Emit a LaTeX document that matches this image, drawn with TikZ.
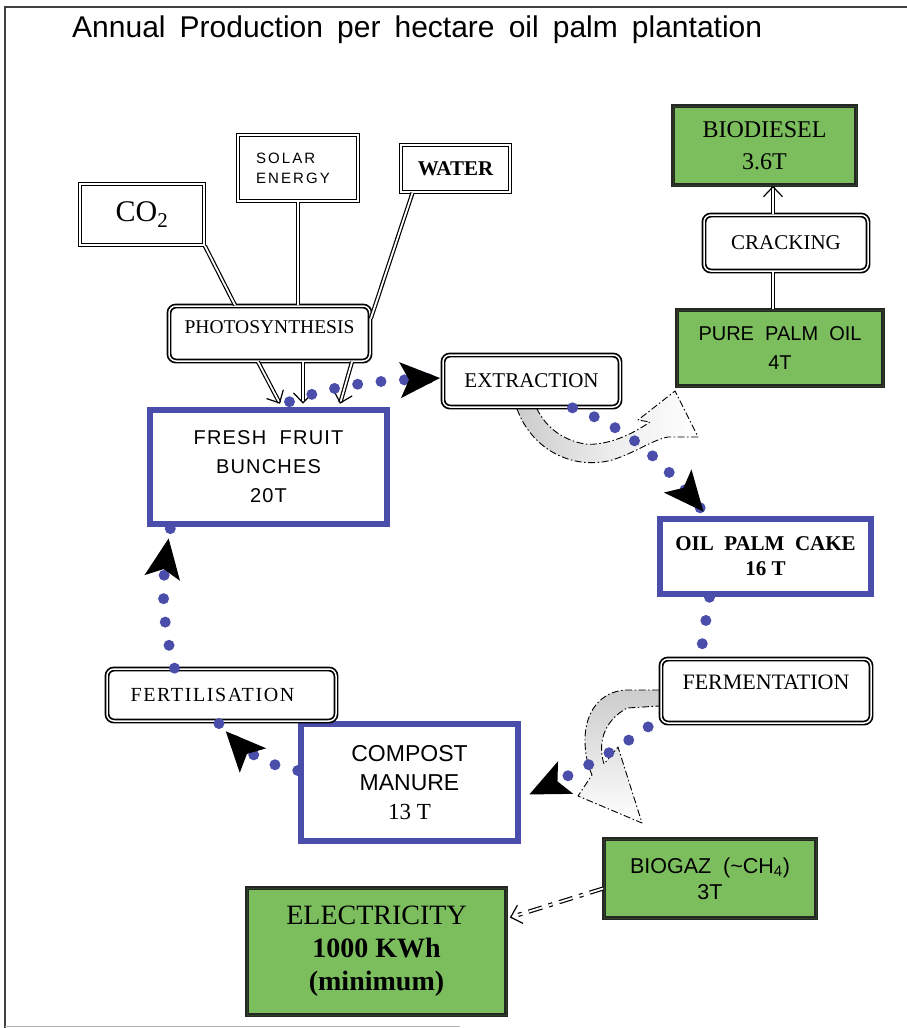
\documentclass[tikz,border=0pt]{standalone}
\usepackage{fontspec}
\setmainfont{Liberation Serif}
\setsansfont{Liberation Sans}
\newfontfamily\spacedsans[LetterSpace=14]{Liberation Sans}
\newfontfamily\spacedsansb[LetterSpace=6]{Liberation Sans}
\newfontfamily\spacedserif[LetterSpace=8]{Liberation Serif}
\usetikzlibrary{arrows.meta,decorations.markings,shadings}
\definecolor{cblue}{RGB}{74,78,170}
\definecolor{cgreen}{RGB}{124,190,94}
\newcommand\fsz[2]{\fontsize{#1}{#2}\selectfont}
\tikzset{
  bigtip/.tip={Stealth[black,length=40pt,width=36pt,inset=9pt,line width=0pt]},
  dtip/.tip={Straight Barb[length=10pt,width=19pt]},
  dbox/.style={draw=black,line width=1.7pt,double=white,double distance=1.5pt,fill=white,inner sep=0pt,align=center},
  rbox/.style={dbox,rounded corners=7pt},
  gbox/.style={draw=black!85,line width=1.7pt,double=cgreen!35!black,double distance=1pt,fill=cgreen,inner sep=0pt,align=center},
  bbox/.style={draw=cblue,line width=6.5pt,fill=white,inner sep=0pt,align=center},
  dline/.style={draw=black,line width=1.2pt,double=white,double distance=1.8pt},
  dots/.style={draw=cblue,line width=11pt,line cap=round,dash pattern=on 0pt off 23.5pt},
  cyc/.style={dots,postaction={decorate},decoration={markings,mark=at position #1 with {\arrow{bigtip}}}},
  hollow/.style={draw=black,line width=0.9pt,dash pattern=on 7pt off 2.5pt on 1.5pt off 2.5pt,line join=round},
}
\begin{document}
\begin{tikzpicture}[x=1pt,y=-1pt]
\useasboundingbox (0,0) rectangle (907,1028);
% frame
\draw[black!75,line width=1.2pt] (5,1028) -- (5,7) -- (907,7);
\draw[black!30,line width=1pt] (5,1026) -- (460,1026);
% title
\node[anchor=west,inner sep=0pt,font=\sffamily\fsz{30}{34}] (title) at (72,30)
  {\hbox to 690pt{Annual\hfill Production\hfill per\hfill hectare\hfill oil\hfill palm\hfill plantation}};

% hollow curved arrows
\draw[hollow,left color=gray!40,right color=white,middle color=white!85!gray]
  (517,409) .. controls (533,452) and (575,470) .. (612,460)
  .. controls (635,453) and (652,440) .. (668,437) -- (698,437) -- (675,391) -- (638,420) -- (650,422)
  .. controls (630,436) and (605,446) .. (585,444)
  .. controls (562,440) and (546,427) .. (537,409);
\draw[hollow,top color=gray!40,bottom color=white]
  (659,690) -- (625,690) .. controls (600,692) and (585,712) .. (585,740)
  .. controls (585,755) and (588,766) .. (592,775) -- (578,796) -- (642,823) -- (618,747) -- (604,764)
  .. controls (598,745) and (602,722) .. (627,708) -- (659,706);

% nodes
\node[dbox,minimum width=124pt,minimum height=61pt,font=\fsz{30}{32}] (co2) at (142,214.5) {CO\textsubscript{2}};
\node[dbox,minimum width=120pt,minimum height=66pt,align=left,font=\spacedsans\fsz{15}{20}] (solar) at (298,168) {SOLAR\\ENERGY\hspace*{10pt}};
\node[dbox,minimum width=109pt,minimum height=47pt,font=\bfseries\fsz{21}{24}] (water) at (455.5,168.5) {WATER};
\node[rbox,minimum width=201pt,minimum height=55pt,font=\fsz{19.5}{22},text height=14pt,text depth=15pt] (photo) at (269.5,333.5) {PHOTOSYNTHESIS};
\node[bbox,minimum width=237pt,minimum height=114pt,font=\spacedsansb\fsz{20}{29}] (ffb) at (268.5,467) {FRESH\ \ FRUIT\\BUNCHES\\20T};
\node[rbox,minimum width=177pt,minimum height=52pt,font=\fsz{21}{24}] (extr) at (531.5,381) {EXTRACTION};
\node[gbox,minimum width=206pt,minimum height=76pt,font=\sffamily\fsz{20}{29}] (ppo) at (780,348) {PURE\ \ PALM\ \ OIL\\4T};
\node[rbox,minimum width=164pt,minimum height=56pt,font=\fsz{21}{24}] (crack) at (786,243) {CRACKING};
\node[gbox,minimum width=183pt,minimum height=79pt,font=\fsz{24}{32}] (biod) at (764.5,145.5) {BIODIESEL\\3.6T};
\node[bbox,minimum width=211pt,minimum height=75pt,font=\bfseries\fsz{21}{25}] (opc) at (765.5,556.5) {OIL\ \ PALM\ \ CAKE\\16 T};
\node[rbox,minimum width=210pt,minimum height=64pt,font=\fsz{22}{24},text height=15pt,text depth=18pt] (ferm) at (766,691) {FERMENTATION};
\node[gbox,minimum width=212pt,minimum height=79pt,font=\sffamily\fsz{21.5}{26}] (biogaz) at (710,878.5) {BIOGAZ\ \ (\textasciitilde CH\textsubscript{4})\\3T};
\node[gbox,minimum width=259pt,minimum height=127pt,font=\fsz{28}{33}] (elec) at (376.5,951.5) {ELECTRICITY\\\textbf{1000 KWh}\\\textbf{(minimum)}};
\node[bbox,minimum width=217pt,minimum height=117pt,font=\sffamily\fsz{23}{29}] (comp) at (409.5,782.5) {COMPOST\\MANURE\\\rmfamily 13 T};
\node[rbox,minimum width=229pt,minimum height=52pt,font=\spacedserif\fsz{20}{24}] (fert) at (221.5,695) {FERTILISATION\hspace*{18pt}};

% double-line connectors
\draw[dline] (co2.south east) -- ([xshift=-34.5pt]photo.north);
\draw[dline] (solar.south) -- (solar.south |- photo.north);
\draw[dline] ([xshift=-43pt]water.south) -- ([yshift=15pt]photo.east);
\draw[dline,-dtip] ([xshift=-11.5pt]photo.south) -- ([xshift=11.5pt,yshift=3pt]ffb.north);
\draw[dline,-dtip] ([xshift=33.5pt]photo.south) -- ([xshift=34.5pt,yshift=3pt]ffb.north);
\draw[dline,-dtip] ([xshift=82.5pt]photo.south) -- ([xshift=71.5pt,yshift=3pt]ffb.north);
\draw[dline] ([xshift=-7pt]ppo.north) -- ([xshift=-7pt]ppo.north |- crack.south);
\draw[dline,-dtip] ([xshift=-7pt]ppo.north |- crack.north) -- ([xshift=-7pt]ppo.north |- biod.south);
\draw[dline,dash pattern=on 14pt off 7pt on 4pt off 7pt,-dtip] ([yshift=-10pt]biogaz.west) -- ([xshift=3pt,yshift=34pt]elec.east);

% dotted cycle
\draw[cyc=0.999] ([xshift=21pt,yshift=5pt]ffb.north) to[out=20,in=183] ([xshift=-2pt,yshift=3pt]extr.west);
\draw[cyc=0.999] ([xshift=41pt]extr.south) to[out=-20,in=130] ([xshift=-62pt,yshift=4pt]opc.north);
\draw[dots] ([xshift=-56pt]opc.south) -- ([xshift=-66pt]ferm.north);
\draw[cyc=0.999] ([xshift=-12pt,yshift=-3pt]ferm.south west) to[out=215,in=25] ([xshift=8pt,yshift=-12pt]comp.east);
\draw[cyc=0.87] ([yshift=12pt]comp.west) to[out=170,in=-50] ([xshift=-4pt]fert.south);
\draw[cyc=0.92] ([xshift=-47pt]fert.north) to[out=105,in=-100] ([xshift=-98pt]ffb.south);
\end{tikzpicture}
\end{document}
